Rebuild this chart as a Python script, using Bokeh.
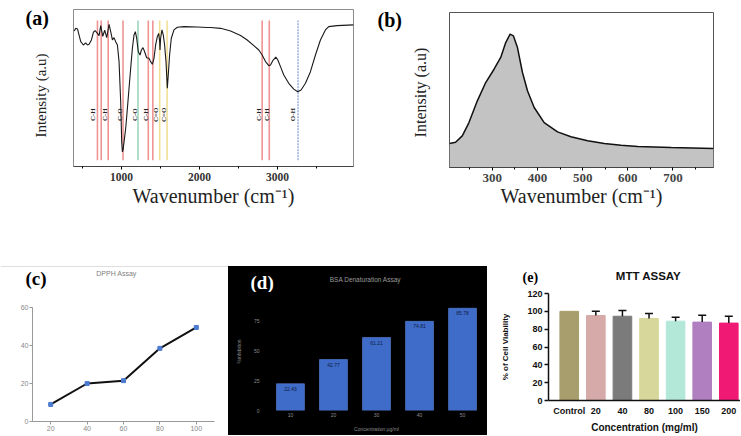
import math
from bokeh.plotting import figure
from bokeh.layouts import row, column
from bokeh.models import Range1d, FixedTicker, Spacer, Whisker, TeeHead, ColumnDataSource
from bokeh.core.properties import value
from bokeh.embed import file_html
from bokeh.resources import INLINE

# ---------------- data ----------------
# (a) FTIR spectrum
ftir_wn = [393, 414, 436, 478, 512, 542, 564, 585, 615, 640, 662, 687, 713, 734, 760, 785, 811, 841,
           862, 884, 905, 926, 948, 969, 990, 1003, 1012, 1020, 1033, 1054, 1076, 1097, 1118, 1140,
           1161, 1178, 1195, 1216, 1238, 1255, 1276, 1297, 1323, 1353, 1374, 1396, 1417, 1438, 1460,
           1477, 1490, 1494, 1502, 1519, 1536, 1553, 1571, 1588, 1600, 1617, 1639, 1673, 1716, 1801,
           1972, 2100, 2143, 2271, 2399, 2527, 2612, 2697, 2761, 2804, 2847, 2889, 2911, 2945, 2979,
           3005, 3039, 3081, 3145, 3209, 3260, 3303, 3359, 3423, 3487, 3551, 3615, 3657, 3764, 3975]
ftir_int = [86.3, 88.0, 87.6, 79.5, 77.4, 78.7, 77.4, 77.8, 80.6, 85.5, 86.5, 85.1, 83.4, 89.7, 82.9,
            86.8, 82.1, 90.6, 85.9, 80.6, 82.1, 79.5, 77.4, 66.8, 41.2, 15.7, 9.3, 10.4, 15.7, 24.2,
            37.0, 49.8, 62.5, 75.3, 83.8, 85.9, 81.7, 73.1, 71.0, 74.2, 75.7, 73.1, 69.3, 68.9, 66.8,
            65.1, 68.9, 77.4, 82.7, 84.8, 79.5, 74.2, 81.7, 87.0, 83.8, 77.4, 66.8, 49.8, 58.3, 71.0,
            81.7, 87.0, 88.7, 89.1, 88.9, 88.5, 88.5, 88.0, 86.3, 83.4, 80.6, 77.0, 74.2, 71.0, 66.8,
            64.2, 64.6, 67.8, 69.7, 67.8, 63.6, 58.3, 53.0, 49.3, 47.6, 48.7, 53.0, 60.4, 71.0, 80.6,
            87.0, 89.1, 89.7, 90.2]
band_wn = [692, 740, 830, 1020, 1212, 1344, 1402, 1490, 1585, 2804, 2895, 3264]
band_label_wn = [632, 795, 975, 1170, 1310, 1445, 1550, 2765, 2860, 3200]
band_label = ["C-H", "C-H", "C-O", "C-O", "C-H", "C=O", "C=O", "C-H", "C-H", "O-H"]

# (b) band
b_wn = [205, 218.5, 233.3, 248.1, 266.7, 285.2, 303.7, 318.5, 329.6, 339.3, 346.7, 355.6, 366.7,
        377.8, 392.6, 414.8, 444.4, 474.1, 511.1, 548.1, 585.2, 622.2, 696.3, 790]
b_int = [15.5, 16.3, 20.4, 29.0, 43.0, 54.8, 63.4, 71.0, 80.6, 86.0, 84.9, 77.4, 61.3, 49.5, 38.7,
         29.0, 23.0, 19.8, 17.2, 15.5, 14.4, 13.5, 12.9, 12.3]

# (c) DPPH assay
c_conc = [20, 40, 60, 80, 100]
c_inh = [9.0, 20.0, 21.5, 38.5, 49.5]

# (d) BSA denaturation assay
d_conc = [10, 20, 30, 40, 50]
d_inh = [22.43, 42.77, 61.21, 74.81, 85.78]

# (e) MTT assay
e_labels = ["Control", "20", "40", "80", "100", "150", "200"]
e_viab = [100.0, 95.3, 94.5, 92.0, 89.0, 87.9, 86.8]
e_err = [0.0, 4.7, 6.3, 5.5, 4.4, 7.7, 7.7]

# ---------------- styles ----------------
SERIF = "Liberation Serif"
SANS = "Liberation Sans"
band_colors = ["#ef9393", "#ef9393", "#ef9393", "#ef9393", "#9fd6bd", "#ef9393", "#ef9393",
               "#f2df95", "#f2df95", "#ef9393", "#ef9393", "#9fb3da"]
e_colors = ["#a89e6d", "#d5aaa8", "#7b7b7b", "#d7d79b", "#b3e8d8", "#b07fc0", "#f01a74"]


def noalign(p):
    try:
        p.frame_align = False
    except Exception:
        pass
    return p


def fig(**kw):
    return noalign(figure(title=None, output_backend="svg", toolbar_location=None, **kw))


def strip(w, h, bg="#ffffff"):
    """A text-only figure whose frame fills it, in pixel units (y downwards)."""
    s = fig(width=w, height=h, x_range=Range1d(0, w), y_range=Range1d(h, 0),
            min_border_left=0, min_border_right=0, min_border_top=0, min_border_bottom=0)
    s.axis.visible = False
    s.grid.visible = False
    s.outline_line_color = None
    s.background_fill_color = bg
    s.border_fill_color = bg
    return s


def put(s, x, y, txt, size, font=SERIF, style="bold", color="#000000", align="left", angle=0.0):
    s.text(x=[x], y=[y], text=[txt], angle=angle, text_font=value(font), text_font_size=size,
           text_font_style=style, text_color=color, text_align=align, text_baseline="middle")


# ---------------- (a) ----------------
sa = strip(65, 250)
put(sa, 25, 17, "(a)", "20px")
put(sa, 40, 95, "Intensity (a.u)", "15px", style="normal", color="#222222", align="center",
    angle=math.pi / 2)

fa = fig(width=305, height=250, x_range=Range1d(385, 3975), y_range=Range1d(0, 100),
         min_border_left=8, min_border_right=17, min_border_top=9, min_border_bottom=84)
fa.grid.visible = False
fa.outline_line_color = "#8c8c8c"
for i, w in enumerate(band_wn):
    fa.segment(x0=[w], y0=[4], x1=[w], y1=[93], line_color=band_colors[i], line_width=1.6,
               line_dash="2 1" if i == len(band_wn) - 1 else "solid")
fa.line(ftir_wn, ftir_int, line_color="#1a1a1a", line_width=1.1)
fa.text(x=band_label_wn, y=[33] * len(band_label_wn), text=band_label, angle=math.pi / 2,
        text_font=value(SERIF), text_font_size="7px", text_font_style="bold",
        text_align="center", text_baseline="middle", text_color="#222222")
fa.yaxis.visible = False
fa.xaxis.ticker = FixedTicker(ticks=[1000, 2000, 3000], minor_ticks=[500, 1500, 2500, 3500])
fa.xaxis.major_tick_out = 3
fa.xaxis.major_tick_in = 0
fa.xaxis.minor_tick_out = 2
fa.xaxis.minor_tick_in = 0
fa.xaxis.major_label_standoff = 3
fa.xaxis.major_label_text_font = SERIF
fa.xaxis.major_label_text_font_style = "bold"
fa.xaxis.major_label_text_font_size = "11.5px"
fa.xaxis.major_label_text_color = "#333333"
fa.xaxis.axis_label = "Wavenumber (cm⁻¹)"
fa.xaxis.axis_label_text_font = SERIF
fa.xaxis.axis_label_text_font_style = "normal"
fa.xaxis.axis_label_text_font_size = "20px"
fa.xaxis.axis_label_text_color = "#222222"
fa.xaxis.axis_label_standoff = 1
fa.xaxis.axis_line_color = "#444444"

# ---------------- (b) ----------------
sb = strip(71, 250)
put(sb, 7, 19, "(b)", "20px")
put(sb, 50, 92, "Intensity (a.u)", "16px", style="normal", color="#222222", align="center",
    angle=math.pi / 2)

fb = fig(width=299, height=250, x_range=Range1d(205, 790), y_range=Range1d(0, 100),
         min_border_left=8, min_border_right=27, min_border_top=12, min_border_bottom=83)
fb.grid.visible = False
fb.outline_line_color = "#555555"
fb.varea(x=b_wn, y1=[0] * len(b_wn), y2=b_int, fill_color="#c3c3c3")
fb.line(b_wn, b_int, line_color="#111111", line_width=1.5)
fb.yaxis.visible = False
fb.xaxis.ticker = FixedTicker(ticks=[300, 400, 500, 600, 700],
                              minor_ticks=[250, 350, 450, 550, 650, 750])
fb.xaxis.major_tick_out = 3
fb.xaxis.major_tick_in = 0
fb.xaxis.minor_tick_out = 2
fb.xaxis.minor_tick_in = 0
fb.xaxis.major_label_standoff = 3
fb.xaxis.major_label_text_font = SERIF
fb.xaxis.major_label_text_font_style = "bold"
fb.xaxis.major_label_text_font_size = "13px"
fb.xaxis.major_label_text_color = "#444444"
fb.xaxis.axis_label = "Wavenumber (cm⁻¹)"
fb.xaxis.axis_label_text_font = SERIF
fb.xaxis.axis_label_text_font_style = "normal"
fb.xaxis.axis_label_text_font_size = "20px"
fb.xaxis.axis_label_text_color = "#222222"
fb.xaxis.axis_label_standoff = 0
fb.xaxis.axis_line_color = "#444444"

# ---------------- (c) ----------------
hc = strip(228, 50)
hc.segment(x0=[0], y0=[16], x1=[228], y1=[16], line_color="#dedede", line_width=1)
put(hc, 25, 28, "(c)", "19px")
put(hc, 116, 23, "DPPH Assay", "7px", font=SANS, style="normal", color="#808080", align="center")

fc = fig(width=228, height=135, x_range=Range1d(10, 110), y_range=Range1d(0, 60),
         min_border_left=32, min_border_right=14, min_border_top=7, min_border_bottom=14)
fc.grid.visible = False
fc.outline_line_color = None
fc.line(c_conc, c_inh, line_color="#111111", line_width=2)
fc.scatter(c_conc, c_inh, marker="square", size=4, color="#4c7bd0")
fc.xaxis.ticker = FixedTicker(ticks=c_conc)
fc.yaxis.ticker = FixedTicker(ticks=[0, 20, 40, 60])
for ax in (fc.xaxis[0], fc.yaxis[0]):
    ax.axis_line_color = "#999999"
    ax.major_tick_line_color = "#999999"
    ax.major_tick_out = 3
    ax.major_tick_in = 0
    ax.minor_tick_line_color = None
    ax.major_label_standoff = 1
    ax.major_label_text_font = SANS
    ax.major_label_text_font_size = "7px"
    ax.major_label_text_color = "#888888"

# ---------------- (d) ----------------
hd = strip(259, 26, bg="#000000")
put(hd, 22, 16, "(d)", "19px", color="#ffffff")
put(hd, 137, 13, "BSA Denaturation Assay", "6.5px", font=SANS, style="normal", color="#9a9a9a",
    align="center")

fd = fig(width=259, height=143, x_range=Range1d(4.2, 55.8), y_range=Range1d(0, 99),
         min_border_left=37, min_border_right=0, min_border_top=0, min_border_bottom=25)
fd.grid.visible = False
fd.outline_line_color = None
fd.background_fill_color = "#000000"
fd.border_fill_color = "#000000"
fd.vbar(x=d_conc, top=d_inh, width=6.5, fill_color="#3f6cc8", line_color="#5a84d8", line_width=0.6)
fd.text(x=d_conc, y=d_inh, text=[f"{v:.2f}" for v in d_inh], y_offset=3,
        text_font=value(SANS), text_font_size="5px", text_align="center",
        text_baseline="top", text_color="#0d1c45")
fd.xaxis.ticker = FixedTicker(ticks=d_conc)
fd.yaxis.ticker = FixedTicker(ticks=[0, 25, 50, 75])
for ax in (fd.xaxis[0], fd.yaxis[0]):
    ax.axis_line_color = None
    ax.major_tick_line_color = None
    ax.minor_tick_line_color = None
    ax.major_tick_out = 0
    ax.major_label_text_font = SANS
    ax.major_label_text_font_size = "5px"
    ax.major_label_text_color = "#8c8c8c"
    ax.axis_label_text_font = SANS
    ax.axis_label_text_font_style = "normal"
    ax.axis_label_text_font_size = "5px"
    ax.axis_label_text_color = "#8c8c8c"
fd.xaxis.major_label_standoff = 2
fd.xaxis.axis_label = "Concentration µg/ml"
fd.xaxis.axis_label_standoff = 6
fd.yaxis.major_label_standoff = 6
fd.yaxis.axis_label = "%inhibition"
fd.yaxis.axis_label_standoff = 9

# ---------------- (e) ----------------
he = strip(253, 40)
put(he, 35, 26.5, "(e)", "14px")
put(he, 161, 25, "MTT ASSAY", "11.5px", font=SANS, style="bold", color="#111111", align="center")

e_pos = list(range(len(e_labels)))
e_src = ColumnDataSource(dict(x=e_pos, top=e_viab, color=e_colors))
err_idx = [i for i, e in enumerate(e_err) if e > 0]
err_src = ColumnDataSource(dict(x=[e_pos[i] for i in err_idx],
                                lower=[e_viab[i] for i in err_idx],
                                upper=[e_viab[i] + e_err[i] for i in err_idx]))
fe = fig(width=253, height=145, x_range=Range1d(-0.78, 6.44), y_range=Range1d(0, 120),
         min_border_left=61, min_border_right=0, min_border_top=3, min_border_bottom=34)
fe.grid.visible = False
fe.outline_line_color = None
fe.vbar(x="x", top="top", width=0.7, fill_color="color", line_color="color", source=e_src)
fe.add_layout(Whisker(base="x", lower="lower", upper="upper", source=err_src, line_width=1.5,
                      line_color="#111111", level="annotation",
                      upper_head=TeeHead(size=8, line_width=1.5, line_color="#111111"),
                      lower_head=None))
fe.xaxis.ticker = FixedTicker(ticks=e_pos)
fe.xaxis.major_label_overrides = {i: lab for i, lab in zip(e_pos, e_labels)}
fe.yaxis.ticker = FixedTicker(ticks=[0, 20, 40, 60, 80, 100, 120])
for ax in (fe.xaxis[0], fe.yaxis[0]):
    ax.axis_line_color = "#111111"
    ax.axis_line_width = 1.5
    ax.major_tick_line_color = "#111111"
    ax.major_tick_line_width = 1.5
    ax.minor_tick_line_color = None
    ax.major_label_text_font = SANS
    ax.major_label_text_font_style = "bold"
    ax.major_label_text_font_size = "9px"
    ax.major_label_text_color = "#111111"
    ax.axis_label_text_font = SANS
    ax.axis_label_text_font_style = "bold"
    ax.axis_label_text_color = "#111111"
fe.xaxis.major_tick_out = 0
fe.xaxis.major_tick_in = 0
fe.xaxis.major_label_standoff = 5
fe.xaxis.axis_label = "Concentration (mg/ml)"
fe.xaxis.axis_label_text_font_size = "10px"
fe.xaxis.axis_label_standoff = 3
fe.yaxis.major_tick_out = 4
fe.yaxis.major_tick_in = 0
fe.yaxis.major_label_standoff = 2
fe.yaxis.axis_label = "% of Cell Viability"
fe.yaxis.axis_label_text_font_size = "8px"
fe.yaxis.axis_label_standoff = 14

layout = column(
    row(sa, fa, sb, fb),
    row(column(hc, fc),
        column(Spacer(width=259, height=16),
               column(hd, fd, styles={"background-color": "#000000"})),
        column(he, fe)),
)

open("out.html", "w").write(file_html(layout, INLINE))
